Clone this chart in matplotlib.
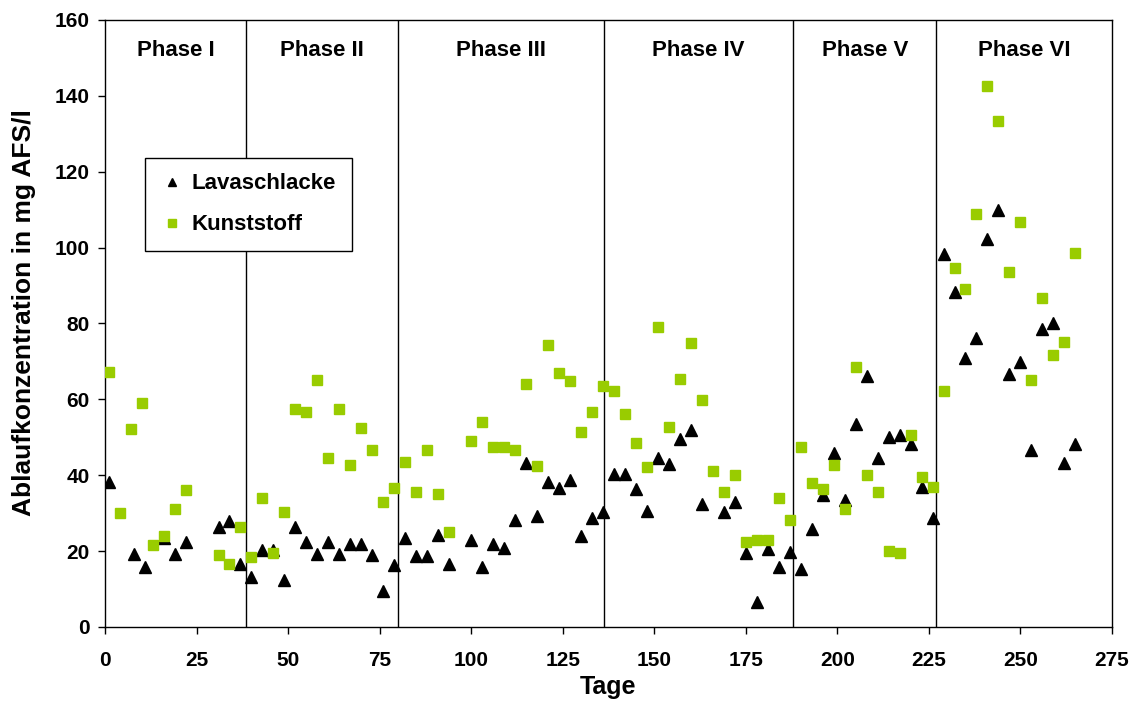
import matplotlib
matplotlib.use("Agg")
import matplotlib.pyplot as plt

plt.rcParams["font.family"] = ["Liberation Sans", "DejaVu Sans"]
plt.rcParams["font.weight"] = "bold"

# Lavaschlacke (triangles)
lava_days = [1, 8, 11, 16, 19, 22, 31, 34, 37, 40, 43, 46, 49, 52, 55, 58, 61, 64,
             67, 70, 73, 76, 79, 82, 85, 88, 91, 94, 100, 103, 106, 109, 112, 115,
             118, 121, 124, 127, 130, 133, 136, 139, 142, 145, 148, 151, 154, 157,
             160, 163, 169, 172, 175, 178, 181, 184, 187, 190, 193, 196, 199, 202,
             205, 208, 211, 214, 217, 220, 223, 226, 229, 232, 235, 238, 241, 244,
             247, 250, 253, 256, 259, 262, 265]
lava_vals = [38.3, 19.3, 15.8, 23.4, 19.3, 22.5, 26.4, 27.9, 16.6, 13.2, 20.3, 20.4,
             12.4, 26.4, 22.5, 19.3, 22.5, 19.3, 21.9, 21.9, 18.9, 9.6, 16.4, 23.4,
             18.7, 18.7, 24.2, 16.7, 22.9, 15.9, 21.9, 20.8, 28.2, 43.1, 29.3, 38.3,
             36.7, 38.7, 24.1, 28.6, 30.2, 40.4, 40.4, 36.5, 30.7, 44.6, 43.0, 49.5,
             51.9, 32.4, 30.3, 33.0, 19.6, 6.6, 20.5, 15.7, 19.7, 15.2, 25.9, 34.8,
             45.9, 33.5, 53.5, 66.2, 44.5, 50.1, 50.5, 48.3, 36.8, 28.7, 98.2, 88.3,
             71.0, 76.3, 102.4, 110.0, 66.7, 69.9, 46.7, 78.5, 80.0, 43.2, 48.3]

# Kunststoff (squares)
kunst_days = [1, 4, 7, 10, 13, 16, 19, 22, 31, 34, 37, 40, 43, 46, 49, 52, 55, 58,
              61, 64, 67, 70, 73, 76, 79, 82, 85, 88, 91, 94, 100, 103, 106, 109,
              112, 115, 118, 121, 124, 127, 130, 133, 136, 139, 142, 145, 148, 151,
              154, 157, 160, 163, 166, 169, 172, 175, 178, 181, 184, 187, 190, 193,
              196, 199, 202, 205, 208, 211, 214, 217, 220, 223, 226, 229, 232, 235,
              238, 241, 244, 247, 250, 253, 256, 259, 262, 265]
kunst_vals = [67.1, 30.0, 52.1, 59.1, 21.5, 24.0, 31.1, 36.0, 19.1, 16.5, 26.4, 18.4,
              34.1, 19.6, 30.4, 57.5, 56.6, 65.1, 44.5, 57.5, 42.6, 52.5, 46.6, 33.0,
              36.6, 43.6, 35.5, 46.6, 35.1, 25.0, 49.1, 54.0, 47.4, 47.4, 46.7, 64.0,
              42.5, 74.4, 66.9, 64.8, 51.3, 56.8, 63.4, 62.1, 56.1, 48.5, 42.1, 79.1,
              52.8, 65.5, 74.9, 59.8, 41.0, 35.5, 40.1, 22.5, 22.8, 22.8, 34.1, 28.1,
              47.5, 38.0, 36.5, 42.6, 31.1, 68.6, 40.1, 35.5, 20.0, 19.6, 50.6, 39.5,
              37.0, 62.1, 94.7, 89.1, 108.9, 142.7, 133.5, 93.5, 106.7, 65.1, 86.8,
              71.8, 75.1, 98.5]

phase_bounds = [0, 38.5, 80, 136.3, 188, 227, 275]
phase_names = ["Phase I", "Phase II", "Phase III", "Phase IV", "Phase V", "Phase VI"]

fig = plt.figure(figsize=(11.4, 7.06), dpi=100)
ax = fig.add_axes([0.0921, 0.1119, 0.8833, 0.8598])

for b in phase_bounds[1:-1]:
    ax.axvline(b, color="black", linewidth=1.0, zorder=1)

for i, name in enumerate(phase_names):
    mid = (phase_bounds[i] + phase_bounds[i + 1]) / 2
    ax.text(mid, 152, name, ha="center", va="center", fontsize=16, fontweight="bold")

ax.plot(lava_days, lava_vals, linestyle="none", marker="^", markersize=8,
        color="black", label="Lavaschlacke", zorder=3)
ax.plot(kunst_days, kunst_vals, linestyle="none", marker="s", markersize=7.3,
        color="#99CC00", label="Kunststoff", zorder=4)

ax.set_xlim(0, 275)
ax.set_ylim(0, 160)
ax.set_xticks(range(0, 276, 25))
ax.set_yticks(range(0, 161, 20))
ax.tick_params(direction="out", length=5, width=1, labelsize=15)
ax.tick_params(axis="x", pad=12)
ax.tick_params(axis="y", pad=6)
for lbl in ax.get_xticklabels() + ax.get_yticklabels():
    lbl.set_fontweight("bold")
for s in ax.spines.values():
    s.set_linewidth(1.0)

ax.set_xlabel("Tage", fontsize=18, fontweight="bold", labelpad=4)
ax.set_ylabel("Ablaufkonzentration in mg AFS/l", fontsize=19, fontweight="bold")
ax.yaxis.set_label_coords(-0.0685, 0.518)

leg = ax.legend(loc="upper left", bbox_to_anchor=(0.0397, 0.773), frameon=True,
                fancybox=False, edgecolor="black", framealpha=1, fontsize=16,
                markerscale=0.75, handlelength=1.0, handletextpad=0.4,
                labelspacing=0.9, borderpad=0.7, borderaxespad=0)
leg.get_frame().set_linewidth(1.0)
for t in leg.get_texts():
    t.set_fontweight("bold")

fig.savefig("out.png", dpi=100, facecolor="white")
